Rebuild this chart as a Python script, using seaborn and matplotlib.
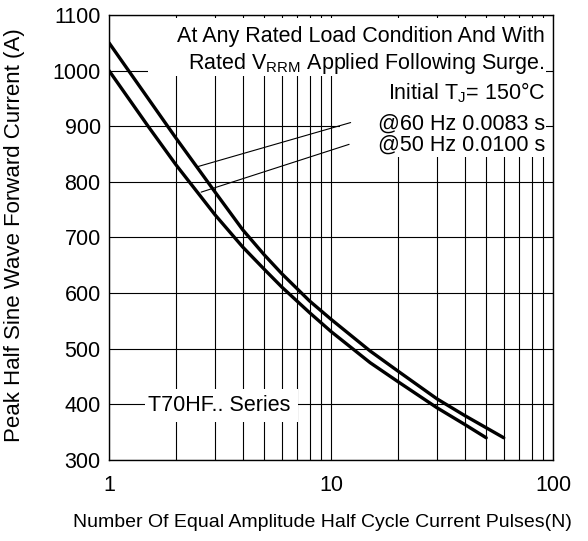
import numpy as np
import pandas as pd
import matplotlib
matplotlib.use("Agg")
import matplotlib.pyplot as plt
from matplotlib.patches import Rectangle
from matplotlib.ticker import FixedLocator, NullFormatter
import seaborn as sns

# values
n_60hz = [1, 1.5, 2, 3, 4, 5, 6, 8, 10, 15, 20, 30, 40, 50, 60]
amps_60hz = [1050, 950, 879, 782, 714, 669, 635, 586, 553, 496, 460, 410, 380, 358, 340]
n_50hz = [1, 1.5, 2, 3, 4, 5, 6, 8, 10, 15, 20, 30, 40, 50]
amps_50hz = [1000, 900, 831, 741, 683, 643, 611, 565, 531, 475, 441, 394, 364, 340]

y_ticks = [300, 400, 500, 600, 700, 800, 900, 1000, 1100]
x_ticks = [1, 10, 100]

df = pd.concat([
    pd.DataFrame({"N": n_60hz, "A": amps_60hz, "freq": "60 Hz"}),
    pd.DataFrame({"N": n_50hz, "A": amps_50hz, "freq": "50 Hz"}),
])

sns.set_style("white")
plt.rcParams["font.family"] = ["Liberation Sans", "DejaVu Sans"]
plt.rcParams["mathtext.fontset"] = "custom"
plt.rcParams["mathtext.rm"] = "Liberation Sans"
plt.rcParams["mathtext.it"] = "Liberation Sans"
for key in ["text.color", "axes.labelcolor", "xtick.color", "ytick.color"]:
    plt.rcParams[key] = "black"

fig = plt.figure(figsize=(5.88, 5.41), dpi=100)
ax = fig.add_axes([0.1854, 0.1497, 0.7551, 0.8226])

sns.lineplot(data=df, x="N", y="A", units="freq", estimator=None,
             color="black", linewidth=2.4, ax=ax, zorder=4, legend=False)

ax.set_xscale("log")
ax.set_xlim(1, 100)
ax.set_ylim(300, 1100)
ax.xaxis.set_major_locator(FixedLocator(x_ticks))
ax.xaxis.set_minor_locator(FixedLocator([m * d for d in (1, 10) for m in range(2, 10)]))
ax.xaxis.set_minor_formatter(NullFormatter())
ax.set_xticks(x_ticks)
ax.set_xticklabels(["1", "10", "100"])
ax.set_yticks(y_ticks)
ax.tick_params(axis="both", which="both", length=0, labelsize=15.5, labelcolor="black")
ax.tick_params(axis="x", pad=11)
ax.tick_params(axis="y", pad=6)

ax.grid(True, which="both", axis="x", color="black", linewidth=0.8)
ax.grid(True, which="major", axis="y", color="black", linewidth=0.8)
ax.set_axisbelow(True)
for s in ax.spines.values():
    s.set_color("black")
    s.set_linewidth(1.0)

ax.set_xlabel("Number Of Equal Amplitude Half Cycle Current Pulses(N)", fontsize=14, color="black")
ax.set_ylabel("Peak Half Sine Wave Forward Current (A)", fontsize=16, color="black")
ax.xaxis.set_label_coords(0.481, -0.122)
ax.yaxis.set_label_coords(-0.19, 0.505)

# white boxes hiding the grid under the notes
tr = ax.transAxes
ax.add_patch(Rectangle((0.088, 0.862), 0.897, 0.131, transform=tr, facecolor="white",
                       edgecolor="none", zorder=2))
ax.add_patch(Rectangle((0.52, 0.68), 0.465, 0.185, transform=tr, facecolor="white",
                       edgecolor="none", zorder=2))
ax.add_patch(Rectangle((0.08, 0.085), 0.345, 0.075, transform=tr, facecolor="white",
                       edgecolor="none", zorder=2))

fs = 15.5
ax.text(0.982, 0.951, "At Any Rated Load Condition And With", transform=tr,
        ha="right", va="center", fontsize=fs, zorder=3)
ax.text(0.982, 0.891, r"Rated V$_{\mathrm{RRM}}$ Applied Following Surge.", transform=tr,
        ha="right", va="center", fontsize=fs, zorder=3)
ax.text(0.982, 0.826, r"Initial T$_{\mathrm{J}}$= 150°C", transform=tr,
        ha="right", va="center", fontsize=fs, zorder=3)
ax.text(0.982, 0.755, "@60 Hz 0.0083 s", transform=tr,
        ha="right", va="center", fontsize=fs, zorder=3)
ax.text(0.982, 0.708, "@50 Hz 0.0100 s", transform=tr,
        ha="right", va="center", fontsize=fs, zorder=3)
ax.text(0.248, 0.122, "T70HF.. Series", transform=tr,
        ha="center", va="center", fontsize=fs, zorder=3)

# leader lines from the notes to the curves
ax.annotate("", xy=(2.44, 826), xytext=(12.6, 908),
            arrowprops=dict(arrowstyle="-", color="black", lw=0.8), zorder=3)
ax.annotate("", xy=(2.53, 780), xytext=(12.4, 869),
            arrowprops=dict(arrowstyle="-", color="black", lw=0.8), zorder=3)

fig.savefig("out.png", dpi=100)
